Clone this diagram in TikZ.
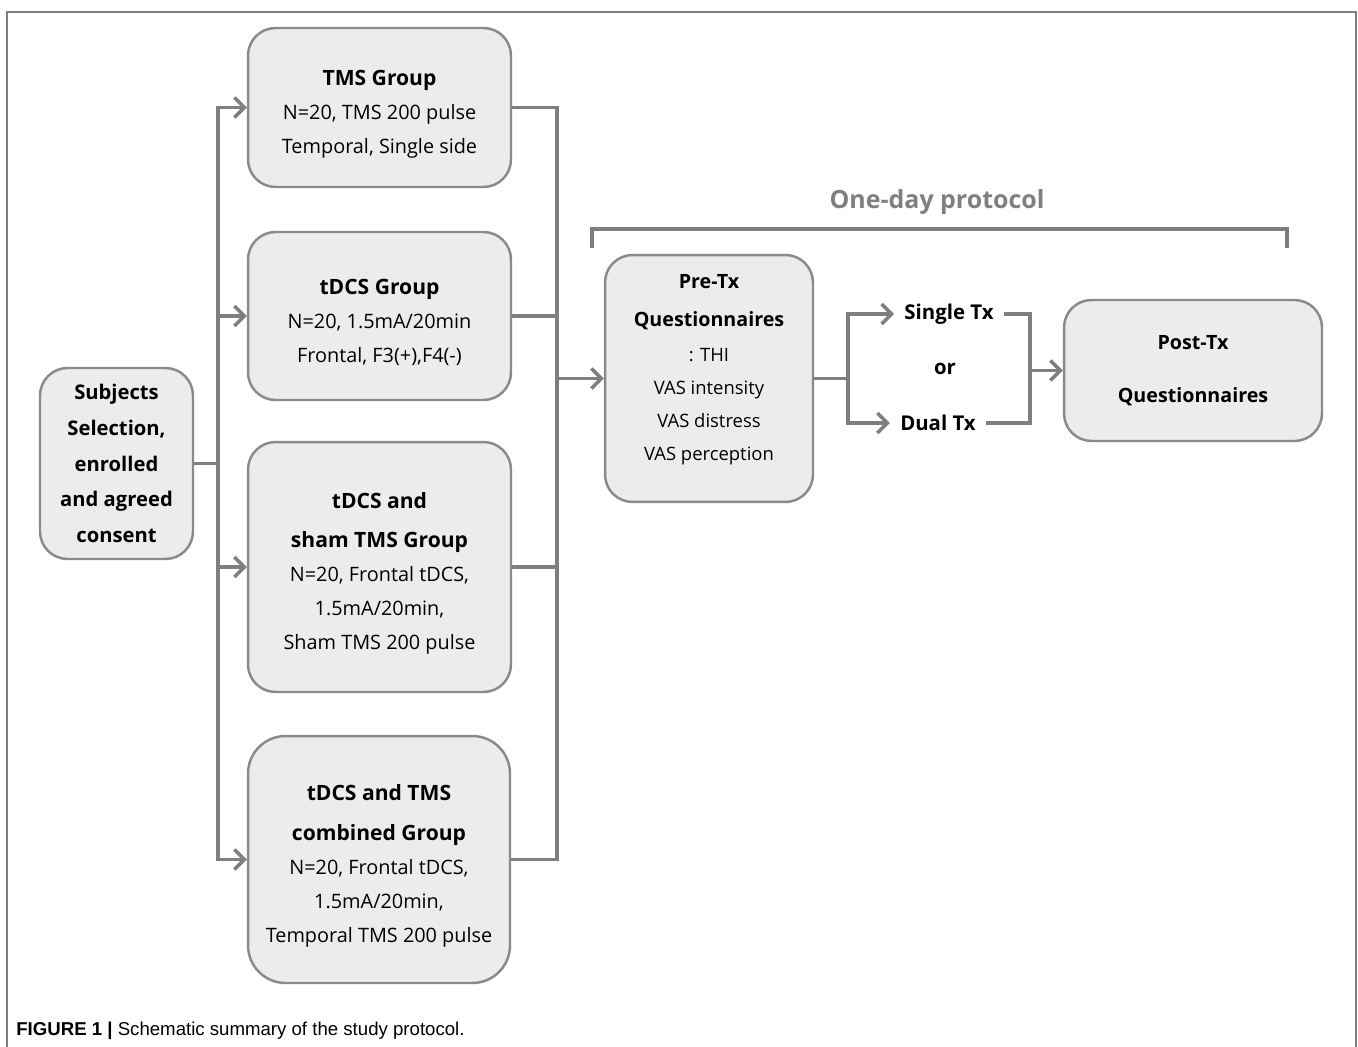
\documentclass[tikz,border=0pt]{standalone}
\usepackage{fontspec}
\setmainfont{Open Sans}
\newfontfamily\capfont{Liberation Sans}
\usepackage{tikz}
\usetikzlibrary{arrows.meta, positioning, calc}
\definecolor{linegray}{HTML}{7F7F7F}
\definecolor{boxgray}{HTML}{ECECEC}
\definecolor{edgegray}{HTML}{8A8A8A}
\newcommand{\ttl}[1]{{\fontsize{12}{20}\selectfont\bfseries #1}}
% empty first line, pushes the text a little down in its box
\newcommand{\toppad}{\mbox{}\\[-3pt]}

\tikzset{
	grpbox/.style={draw=edgegray, fill=boxgray, line width=1.4pt, rounded corners=0.55cm, align=center, inner sep=0pt, font=\fontsize{11.3}{19.4}\selectfont},
	conn/.style={draw=linegray, line width=2.2pt},
	arr/.style={conn, -{Straight Barb[length=0.2cm, width=0.4cm, line width=2pt]}},
	txlabel/.style={inner xsep=0.2cm, inner ysep=0pt, font=\fontsize{11.6}{20}\selectfont\bfseries},
}

\begin{document}
\begin{tikzpicture}[x=0.02cm, y=-0.02cm]
\useasboundingbox (0,0) rectangle (1358,1047);

% open frame (no bottom edge)
\draw[linegray, line width=1.3pt] (7,1047) -- (7,12) -- (1356,12) -- (1356,1047);

% start box
\node[grpbox, minimum width=3.06cm, minimum height=3.82cm, font=\fontsize{11.5}{20.4}\selectfont\bfseries] (subj) at (116.5,463.5)
	{Subjects\\ Selection,\\ enrolled\\ and agreed\\ consent};

% four groups
\node[grpbox, minimum width=5.26cm, minimum height=3.18cm] (tms) at (379.5,107.5)
	{\toppad\ttl{TMS Group}\\ N=20, TMS 200 pulse\\ Temporal, Single side};
\node[grpbox, minimum width=5.26cm, minimum height=3.36cm] (tdcs) at (379.5,316)
	{\toppad\ttl{tDCS Group}\\ N=20, 1.5mA/20min\\ Frontal, F3(+),F4(-)};
\node[grpbox, minimum width=5.26cm, minimum height=5.0cm] (sham) at (379.5,567)
	{\toppad\ttl{tDCS and}\\[3pt] \ttl{sham TMS Group}\\ N=20, Frontal tDCS,\\ 1.5mA/20min,\\ Sham TMS 200 pulse};
\node[grpbox, minimum width=5.24cm, minimum height=4.94cm, rounded corners=0.75cm] (comb) at (379,859.5)
	{\toppad\ttl{tDCS and TMS}\\[3pt] \ttl{combined Group}\\ N=20, Frontal tDCS,\\ 1.5mA/20min,\\ Temporal TMS 200 pulse};

% one-day protocol
\node[grpbox, minimum width=4.16cm, minimum height=4.94cm, font=\fontsize{10.5}{18.8}\selectfont] (pre) at (709,378.5)
	{{\fontsize{11.2}{20}\selectfont\bfseries Pre-Tx}\\[3pt] {\fontsize{11.2}{20}\selectfont\bfseries Questionnaires}\\[1pt] : THI\\ VAS intensity\\ VAS distress\\ VAS perception\\[-6pt] \mbox{}};
\node[grpbox, minimum width=5.16cm, minimum height=2.82cm, font=\fontsize{11.2}{30}\selectfont\bfseries] (post) at (1193,370.5)
	{Post-Tx\\ Questionnaires};

\node[txlabel] (single) at (949,314) {Single Tx};
\node[txlabel] (or) at (945,369) {or};
\node[txlabel] (dual) at (938,423) {Dual Tx};

\node[text=linegray, font=\fontsize{14.2}{16}\selectfont\bfseries] (oneday) at (937,202) {One-day protocol};
\draw[linegray, line width=2.2pt] (592,248) -- (592,229) -- (1287,229) -- (1287,248);

% left bus
\coordinate (lbus) at (218,463.5);
\draw[conn] (subj.east) -- (lbus);
\foreach \g in {tms,tdcs,sham,comb}
	\draw[arr] (lbus) |- (\g.west);

% right bus
\coordinate (rbus) at (557,378.5);
\foreach \g in {tms,tdcs,sham,comb}
	\draw[conn] (\g.east) -| (rbus);
\draw[arr] (rbus) -- (pre.west);

% split and merge
\coordinate (split) at (848,378.5);
\draw[conn] (pre.east) -- (split);
\draw[arr] (split) |- (single.west);
\draw[arr] (split) |- (dual.west);
\coordinate (merge) at (1030,370.5);
\draw[conn] (single.east) -| (merge);
\draw[conn] (dual.east) -| (merge);
\draw[arr] (merge) -- (post.west);

% caption
\node[anchor=west, inner sep=0pt, font=\capfont\fontsize{10.6}{12}\selectfont] (cap) at (16,1031)
	{\textbf{FIGURE 1 |} Schematic summary of the study protocol.};

\end{tikzpicture}
\end{document}
